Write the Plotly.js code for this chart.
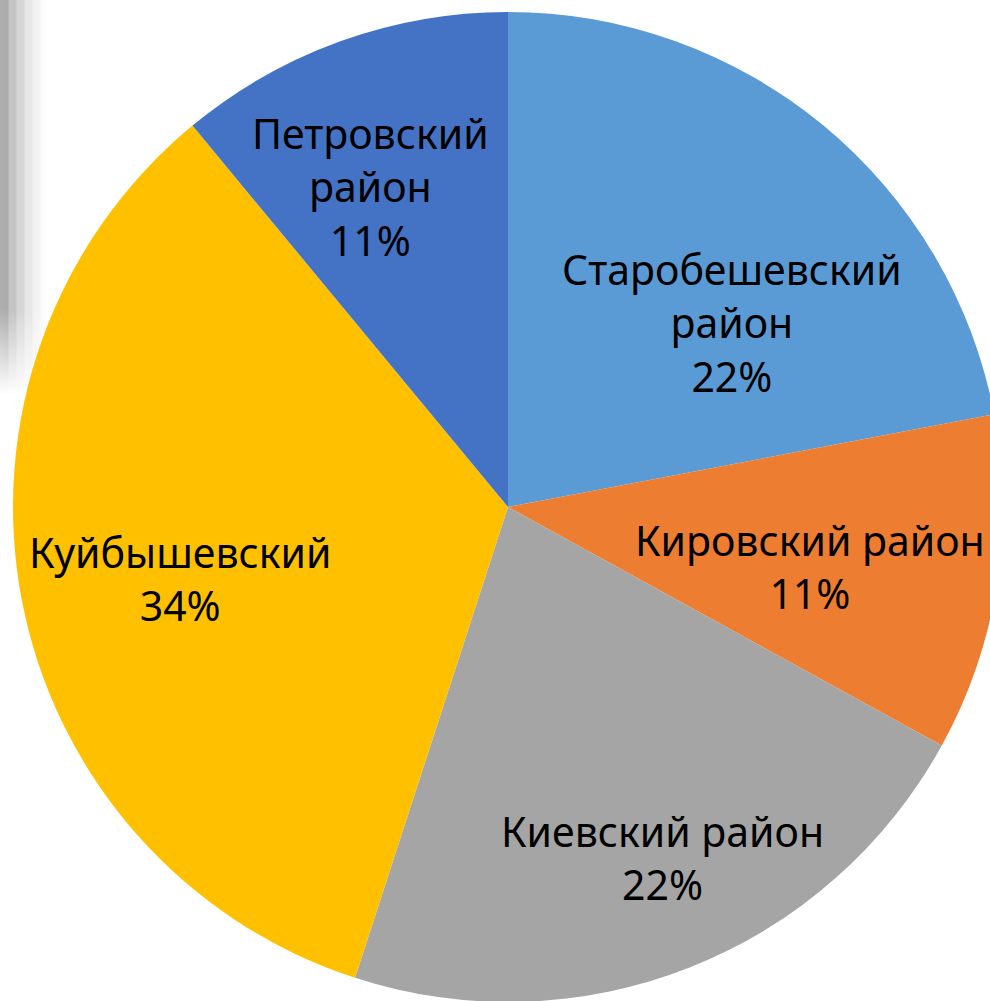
<!DOCTYPE html>
<html>
<head>
<meta charset="utf-8">
<script src="https://cdn.plot.ly/plotly-3.0.1.min.js"></script>
<style>
  html, body { margin: 0; padding: 0; background: #ffffff; overflow: hidden; width: 990px; height: 1001px; }
  #shadow {
    position: absolute; left: 0; top: 0; width: 48px; height: 400px;
    background: linear-gradient(to right, #b0b0b0 0px, #aaaaaa 8px, #c4c4c4 9px, #c4c4c4 16px, #d6d6d6 17px, #d6d6d6 24px, #e6e6e6 25px, #e6e6e6 32px, #f0f0f0 33px, #f4f4f4 40px, #fbfbfb 41px, #ffffff 48px);
    -webkit-mask-image: linear-gradient(to bottom, #000 0px, #000 310px, rgba(0,0,0,0) 395px);
    mask-image: linear-gradient(to bottom, #000 0px, #000 310px, rgba(0,0,0,0) 395px);
  }
  #chart { position: absolute; left: 0; top: 0; width: 1016px; height: 1014px; }
</style>
</head>
<body>
<div id="shadow"></div>
<div id="chart"></div>
<script>
// Data
const categories = ['Старобешевский район', 'Кировский район', 'Киевский район', 'Куйбышевский', 'Петровский район'];
const displayLabels = ['Старобешевский<br>район', 'Кировский район', 'Киевский район', 'Куйбышевский', 'Петровский<br>район'];
const shares = [22, 11, 22, 34, 11];
const colors = ['#5B9BD5', '#ED7D31', '#A5A5A5', '#FFC000', '#4472C4'];

// Label placement (pixel centres in the 990x1001 view)
const labelPos = [[732, 322], [810, 566], [662, 857], [180, 578], [370, 186]];

const W = 1016, H = 1014, M = {l: 13, r: 13, t: 12, b: 12};
const pw = W - M.l - M.r, ph = H - M.t - M.b;

const total = shares.reduce((a, b) => a + b, 0);
const annotations = categories.map((c, i) => ({
  xref: 'paper', yref: 'paper',
  x: (labelPos[i][0] - M.l) / pw,
  y: 1 - (labelPos[i][1] - M.t) / ph,
  xanchor: 'center', yanchor: 'middle',
  text: displayLabels[i] + '<br>' + Math.round(shares[i] / total * 100) + '%',
  showarrow: false,
  align: 'center',
  font: {family: '"Noto Sans", sans-serif', size: 41, color: '#000000'}
}));

const trace = {
  type: 'pie',
  labels: categories,
  values: shares,
  sort: false,
  direction: 'clockwise',
  rotation: 0,
  marker: {colors: colors, line: {width: 0}},
  textinfo: 'none',
  hoverinfo: 'label+percent',
  showlegend: false
};

Plotly.newPlot('chart', [trace], {
  width: W, height: H,
  margin: M,
  paper_bgcolor: 'rgba(0,0,0,0)',
  plot_bgcolor: 'rgba(0,0,0,0)',
  showlegend: false,
  annotations: annotations
}, {displayModeBar: false, staticPlot: true});
</script>
</body>
</html>
